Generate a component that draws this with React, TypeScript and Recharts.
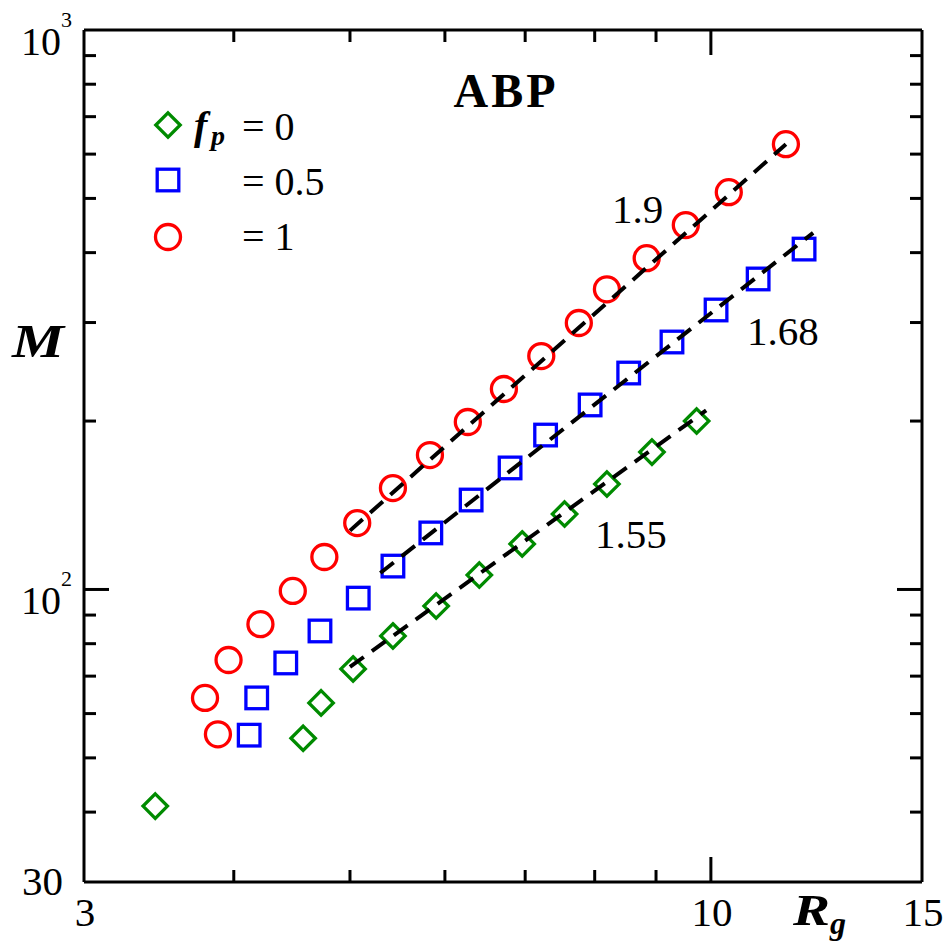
import React from 'react';
import { ScatterChart, Scatter, XAxis, YAxis, Customized } from 'recharts';

document.body.style.margin = '0';

// M vs R_g
const fp0 = [
  { x: 3.44, y: 41.0 }, { x: 4.57, y: 54.2 }, { x: 4.73, y: 62.7 }, { x: 5.03, y: 72.1 },
  { x: 5.43, y: 82.6 }, { x: 5.9, y: 93.4 }, { x: 6.41, y: 106.1 }, { x: 6.96, y: 120.6 },
  { x: 7.55, y: 136.4 }, { x: 8.19, y: 154.3 }, { x: 8.93, y: 176.0 }, { x: 9.73, y: 200.0 },
];
const fp05 = [
  { x: 4.12, y: 54.9 }, { x: 4.18, y: 64.0 }, { x: 4.42, y: 73.9 }, { x: 4.72, y: 84.3 },
  { x: 5.08, y: 96.5 }, { x: 5.43, y: 110.1 }, { x: 5.84, y: 126.2 }, { x: 6.31, y: 144.5 },
  { x: 6.8, y: 164.9 }, { x: 7.28, y: 188.8 }, { x: 7.93, y: 213.7 }, { x: 8.54, y: 243.7 },
  { x: 9.28, y: 276.9 }, { x: 10.1, y: 315.9 }, { x: 10.95, y: 358.9 }, { x: 11.96, y: 405.9 },
];
const fp1 = [
  { x: 3.88, y: 55.1 }, { x: 3.785, y: 64.0 }, { x: 3.96, y: 74.8 }, { x: 4.21, y: 86.7 },
  { x: 4.48, y: 99.4 }, { x: 4.76, y: 114.3 }, { x: 5.07, y: 131.4 }, { x: 5.43, y: 151.8 },
  { x: 5.83, y: 173.9 }, { x: 6.27, y: 199.2 }, { x: 6.72, y: 228.2 }, { x: 7.22, y: 261.3 },
  { x: 7.76, y: 299.4 }, { x: 8.19, y: 344 }, { x: 8.84, y: 391 }, { x: 9.53, y: 448 },
  { x: 10.35, y: 513 }, { x: 11.55, y: 625 },
];

// power-law fits (end points)
const fit0 = [{ x: 5.0, y: 72.7 }, { x: 9.91, y: 209 }];
const fit05 = [{ x: 5.3, y: 107 }, { x: 12.17, y: 434 }];
const fit1 = [{ x: 5.0, y: 127.4 }, { x: 11.55, y: 625 }];

const xTicks = [3, 4, 5, 6, 7, 8, 9, 10, 15];
const yTicks = [30, 40, 50, 60, 70, 80, 90, 100, 200, 300, 400, 500, 600, 700, 800, 900, 1000];

const RED = '#ff0000';
const BLUE = '#0000ff';
const GREEN = '#008b00';
const FONT = 'Liberation Serif, Times, serif';

const Circle = ({ cx, cy }: any) => (
  <circle cx={cx} cy={cy} r={12.5} fill="none" stroke={RED} strokeWidth={3.3} />
);
const Square = ({ cx, cy }: any) => (
  <rect x={cx - 10.8} y={cy - 10.8} width={21.6} height={21.6} fill="none" stroke={BLUE} strokeWidth={3.3} />
);
const Diamond = ({ cx, cy }: any) => (
  <polygon
    points={`${cx},${cy - 12.2} ${cx + 12.2},${cy} ${cx},${cy + 12.2} ${cx - 12.2},${cy}`}
    fill="none"
    stroke={GREEN}
    strokeWidth={3.3}
  />
);
const Nothing = () => <g />;

const tickLen = (major: boolean) => (major ? 25 : 12);
const txt = { fontFamily: FONT, fill: '#000' };

const BottomTick = ({ x, y, payload }: any) => {
  const v = payload.value;
  const edge = v === 3 || v === 15;
  return (
    <g>
      {!edge && <line x1={x} y1={y} x2={x} y2={y - tickLen(v === 10)} stroke="#000" strokeWidth={3} />}
      {(v === 3 || v === 10 || v === 15) && (
        <text x={x + 1} y={y + 44} textAnchor="middle" fontSize={41} style={txt}>
          {v}
        </text>
      )}
    </g>
  );
};

const TopTick = ({ x, y, payload }: any) => {
  const v = payload.value;
  if (v === 3 || v === 15) return <g />;
  return <line x1={x} y1={y} x2={x} y2={y + tickLen(v === 10)} stroke="#000" strokeWidth={3} />;
};

const LeftTick = ({ x, y, payload }: any) => {
  const v = payload.value;
  const edge = v === 30 || v === 1000;
  return (
    <g>
      {!edge && <line x1={x} y1={y} x2={x + tickLen(v === 100)} y2={y} stroke="#000" strokeWidth={3} />}
      {v === 30 && (
        <text x={x - 21} y={y + 13} textAnchor="end" fontSize={41} style={txt}>30</text>
      )}
      {(v === 100 || v === 1000) && (
        <text x={x - 12} y={y + 25} textAnchor="end" fontSize={40} style={txt}>
          10
          <tspan dy={-28} fontSize={22}>{v === 100 ? '2' : '3'}</tspan>
        </text>
      )}
    </g>
  );
};

const RightTick = ({ x, y, payload }: any) => {
  const v = payload.value;
  if (v === 30 || v === 1000) return <g />;
  return <line x1={x} y1={y} x2={x - tickLen(v === 100)} y2={y} stroke="#000" strokeWidth={3} />;
};

const Annotations = () => (
  <g>
    <text x={506} y={107} textAnchor="middle" fontSize={48} fontWeight="bold" letterSpacing={3} style={txt}>ABP</text>
    <text x={612} y={223} fontSize={41} style={txt}>1.9</text>
    <text x={747} y={345} fontSize={41} style={txt}>1.68</text>
    <text x={595} y={548} fontSize={41} style={txt}>1.55</text>
    <text x={12} y={357} fontSize={46} fontWeight="bold" fontStyle="italic" textLength={52} lengthAdjust="spacingAndGlyphs" style={txt}>M</text>
    <text x={793} y={925} fontSize={45} fontWeight="bold" fontStyle="italic" textLength={37} lengthAdjust="spacingAndGlyphs" style={txt}>R</text>
    <text x={830} y={934} fontSize={32} fontWeight="bold" fontStyle="italic" style={txt}>g</text>
    {/* legend */}
    <Diamond cx={168} cy={125} />
    <Square cx={168} cy={180} />
    <Circle cx={168} cy={237} />
    <text x={194} y={139} fontSize={40} fontWeight="bold" fontStyle="italic" style={txt}>f</text>
    <text x={211} y={145} fontSize={28} fontWeight="bold" fontStyle="italic" style={txt}>p</text>
    <text x={242} y={140} fontSize={40} style={txt}>= 0</text>
    <text x={242} y={195} fontSize={40} style={txt}>= 0.5</text>
    <text x={242} y={250} fontSize={40} style={txt}>= 1</text>
  </g>
);

const lineStyle = { stroke: '#000', strokeWidth: 4, strokeDasharray: '17 10' };
const axisLine = { stroke: '#000', strokeWidth: 3 };

export default function App() {
  return (
    <ScatterChart width={951} height={945} margin={{ top: 29, right: 28, bottom: 62, left: 83 }}>
      <XAxis
        xAxisId={0}
        dataKey="x"
        type="number"
        scale="log"
        domain={[3, 15]}
        allowDataOverflow
        ticks={xTicks}
        interval={0}
        height={1}
        tickSize={0}
        tickMargin={0}
        tickLine={false}
        axisLine={axisLine}
        tick={<BottomTick />}
      />
      <XAxis
        xAxisId="top"
        orientation="top"
        dataKey="x"
        type="number"
        scale="log"
        domain={[3, 15]}
        allowDataOverflow
        ticks={xTicks}
        interval={0}
        height={1}
        tickSize={0}
        tickMargin={0}
        tickLine={false}
        axisLine={axisLine}
        tick={<TopTick />}
      />
      <YAxis
        yAxisId={0}
        dataKey="y"
        type="number"
        scale="log"
        domain={[30, 1000]}
        allowDataOverflow
        ticks={yTicks}
        interval={0}
        width={1}
        tickSize={0}
        tickMargin={0}
        tickLine={false}
        axisLine={axisLine}
        tick={<LeftTick />}
      />
      <YAxis
        yAxisId="right"
        orientation="right"
        dataKey="y"
        type="number"
        scale="log"
        domain={[30, 1000]}
        allowDataOverflow
        ticks={yTicks}
        interval={0}
        width={1}
        tickSize={0}
        tickMargin={0}
        tickLine={false}
        axisLine={axisLine}
        tick={<RightTick />}
      />
      <Scatter name="f_p = 0" data={fp0} shape={<Diamond />} isAnimationActive={false} />
      <Scatter name="f_p = 0.5" data={fp05} shape={<Square />} isAnimationActive={false} />
      <Scatter name="f_p = 1" data={fp1} shape={<Circle />} isAnimationActive={false} />
      <Scatter data={fit0} line={lineStyle} shape={<Nothing />} legendType="none" isAnimationActive={false} />
      <Scatter data={fit05} line={lineStyle} shape={<Nothing />} legendType="none" isAnimationActive={false} />
      <Scatter data={fit1} line={lineStyle} shape={<Nothing />} legendType="none" isAnimationActive={false} />
      <Customized component={Annotations} />
    </ScatterChart>
  );
}
